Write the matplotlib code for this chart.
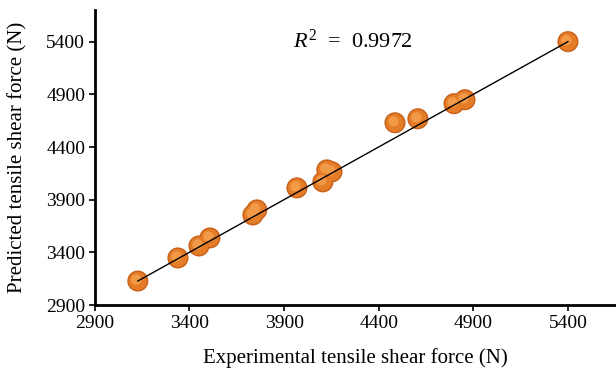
import matplotlib
matplotlib.use("Agg")
import matplotlib.pyplot as plt
import numpy as np

# experimental vs predicted tensile shear force (N)
experimental = [3127, 3339, 3450, 3508, 3735, 3756, 3968, 4105, 4126, 4153,
                4486, 4607, 4798, 4856, 5400]
predicted = [3128, 3347, 3461, 3537, 3755, 3803, 4012, 4069, 4183, 4164,
             4630, 4668, 4811, 4849, 5400]
fit_x = [3127, 5400]
fit_y = [3128, 5400]
ticks = [2900, 3400, 3900, 4400, 4900, 5400]
r2_text = r"$R^2$  =  0.9972"

plt.rcParams["font.family"] = ["Liberation Serif", "DejaVu Serif"]
plt.rcParams["mathtext.fontset"] = "custom"
plt.rcParams["mathtext.it"] = "Liberation Serif:italic"
plt.rcParams["mathtext.rm"] = "Liberation Serif"

fig = plt.figure(figsize=(6.16, 3.72), dpi=100)
ax = fig.add_axes([0.154, 0.180, 0.846, 0.793])

# shaded "sphere" look: dark base, orange body, light highlight
ax.scatter(experimental, predicted, s=230, color="#c8621a", edgecolors="none", zorder=2)
ax.scatter(experimental, predicted, s=170, color="#e57d28", edgecolors="none", zorder=3)
ax.scatter(np.array(experimental) - 8, np.array(predicted) + 14, s=55,
           color="#f39a48", edgecolors="none", zorder=4)
ax.plot(fit_x, fit_y, color="black", lw=1.0, zorder=5)

ax.text(4265, 5400, r2_text, fontsize=16, ha="center", va="center")

ax.set_xlim(2900, 5654)
ax.set_ylim(2900, 5700)
ax.set_xticks(ticks)
ax.set_yticks(ticks)
ax.tick_params(labelsize=14, direction="out", length=4, width=1.2, pad=3)
for side in ("top", "right"):
    ax.spines[side].set_visible(False)
for side in ("left", "bottom"):
    ax.spines[side].set_linewidth(2)

ax.set_xlabel("Experimental tensile shear force (N)", fontsize=15, labelpad=12)
ax.set_ylabel("Predicted tensile shear force (N)", fontsize=15, labelpad=13)

fig.savefig("out.png", dpi=100)
